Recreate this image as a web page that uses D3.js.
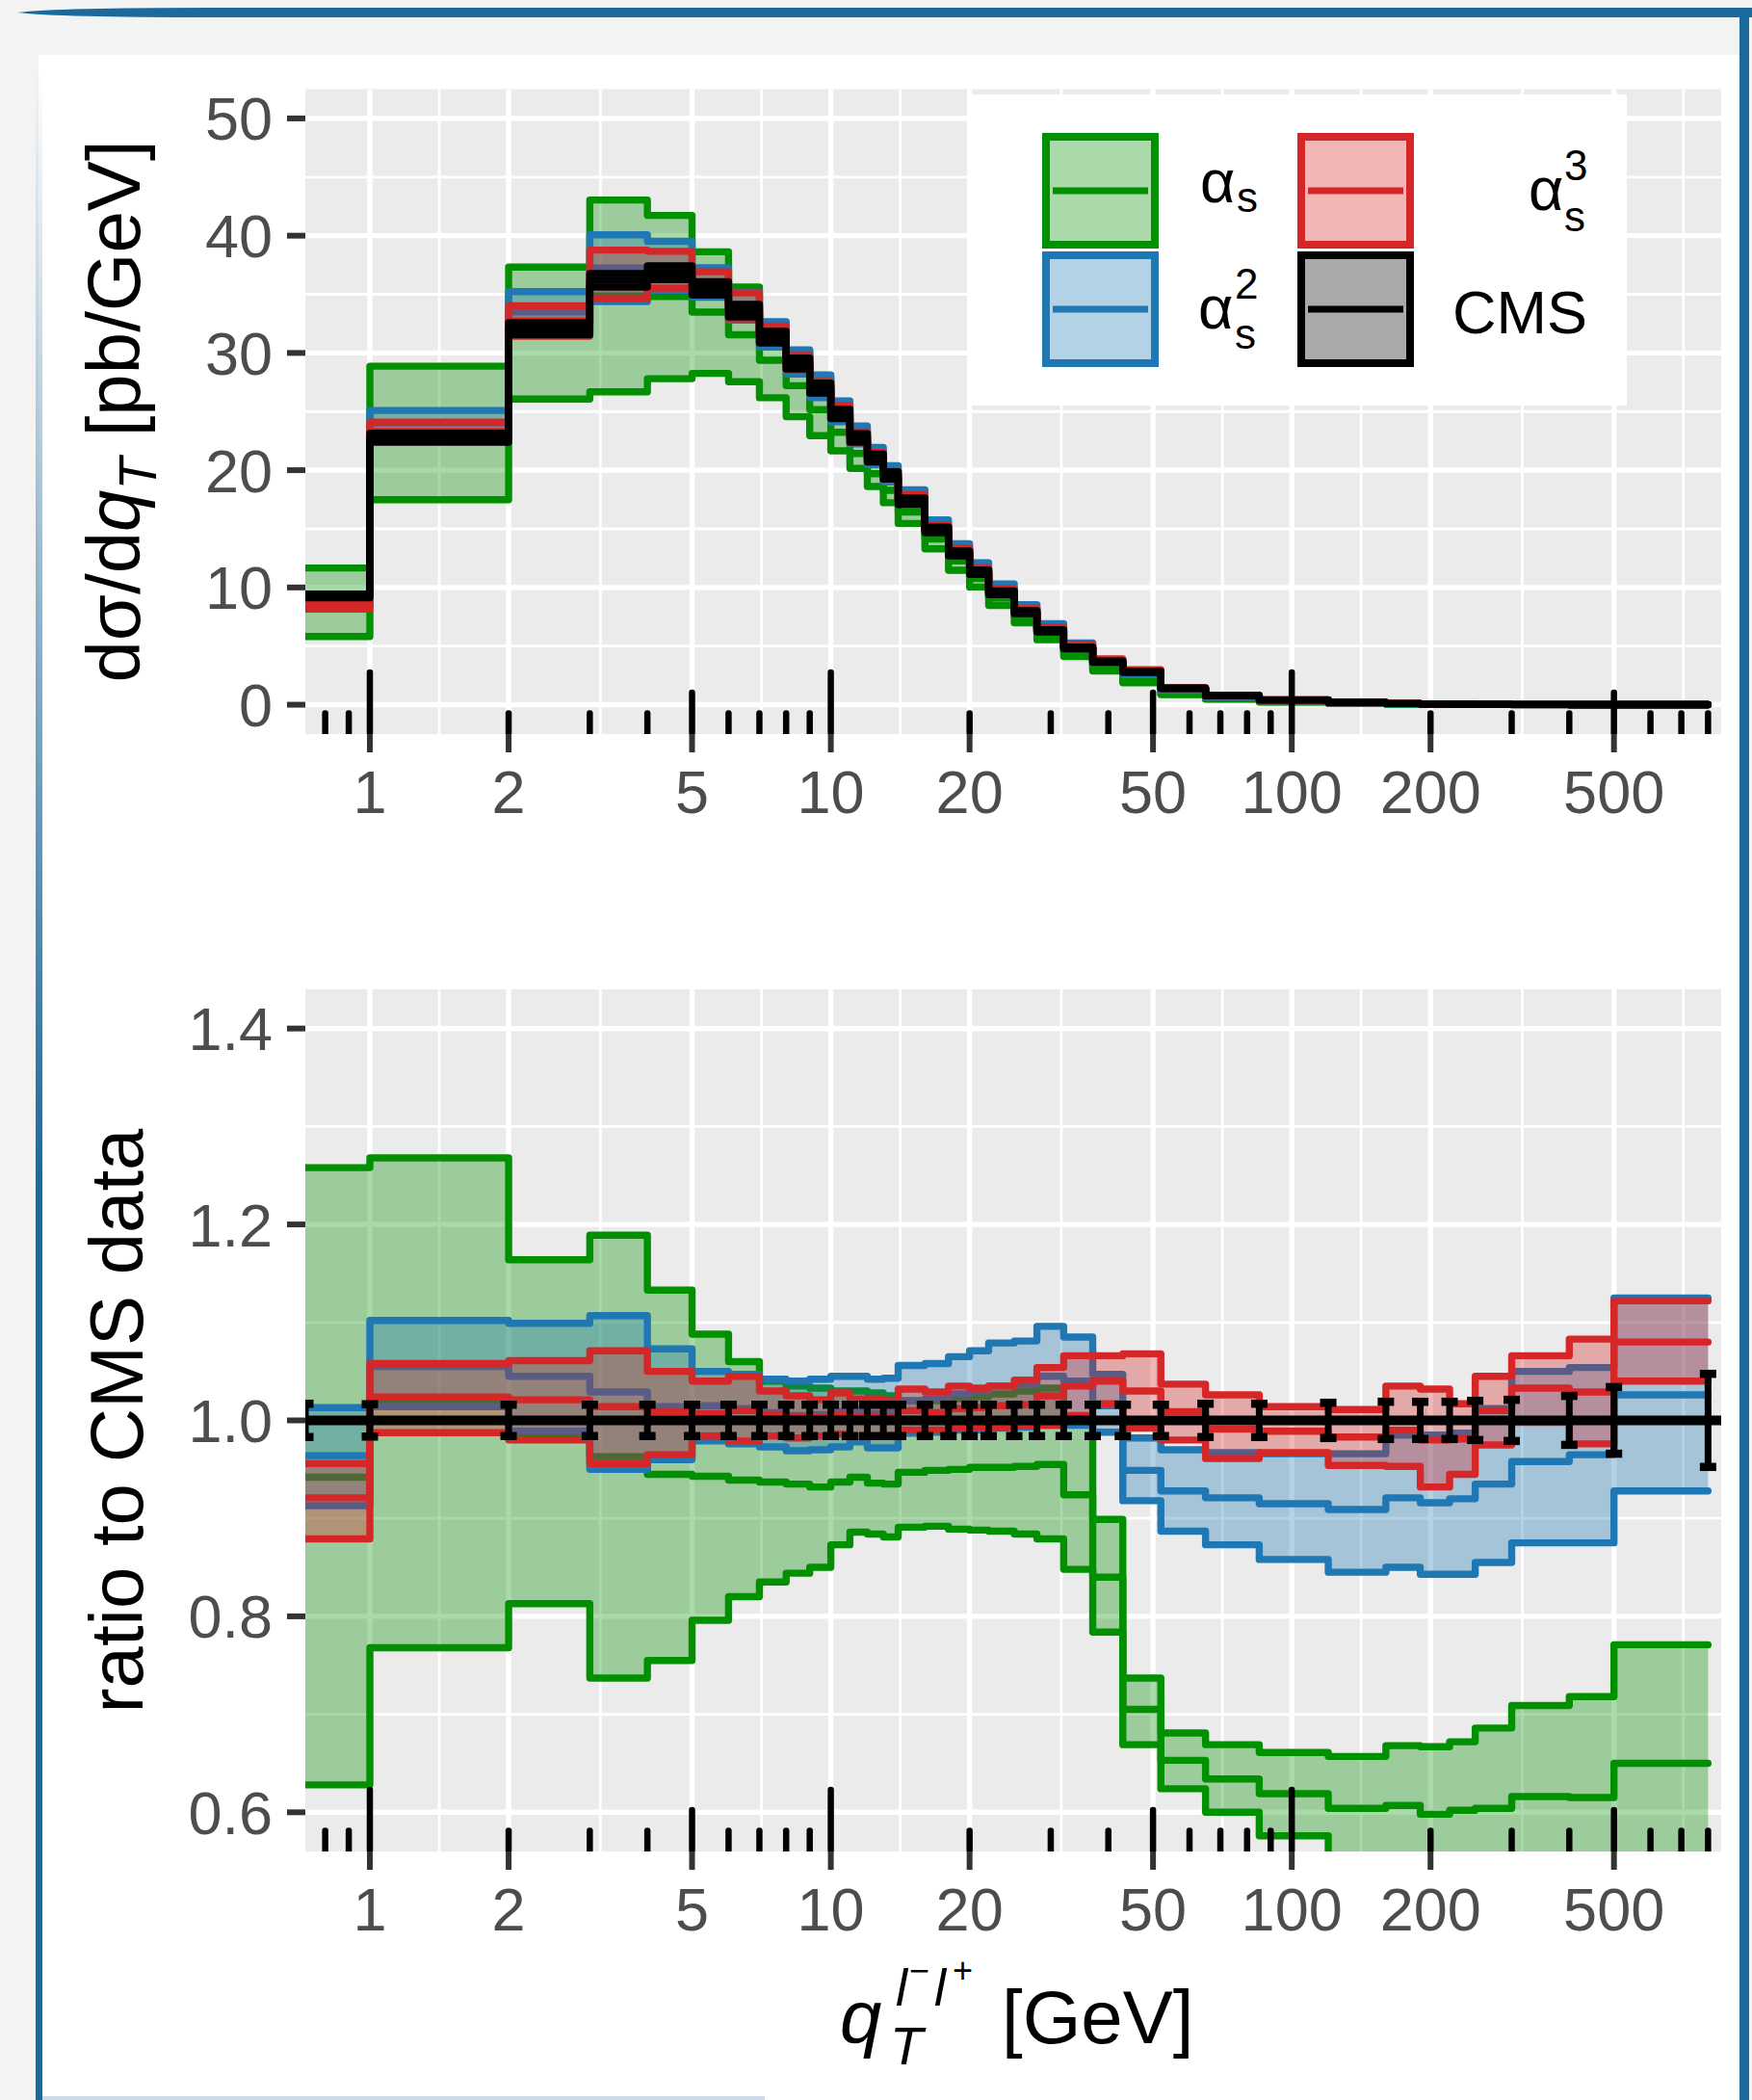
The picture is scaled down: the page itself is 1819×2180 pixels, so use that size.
<!DOCTYPE html>
<html>
<head>
<meta charset="utf-8">
<script src="https://cdn.jsdelivr.net/npm/d3@7"></script>
<style>
html, body { margin: 0; padding: 0; background: #f3f3f3; }
svg { display: block; }
text { font-family: "Liberation Sans", Arial, Helvetica, sans-serif; }
</style>
</head>
<body>
<svg id="chart" width="1819" height="2180"></svg>
<script>
// bin lower edges in GeV (first bin starts at 0, last point closes the 500-800 bin)
const edges = [0,1,2,3,4,5,6,7,8,9,10,11,12,13,14,16,18,20,22,25,28,32,37,43,52,65,85,120,160,190,220,250,300,400,500,800];

// CMS measurement, dsigma/dqT [pb/GeV] per bin, and relative uncertainty per point
const cmsXsec = [9.27,22.77,32.06,36.2,36.83,35.5,33.6,31.35,29.1,27.0,24.8,22.75,21.05,19.55,17.35,14.9,12.9,11.3,9.55,7.9,6.3,4.85,3.67,2.8,1.4,0.78,0.41,0.2,0.1,0.07,0.045,0.03,0.015,0.007,0.003];
const cmsErr = [0.017,0.0165,0.016,0.016,0.016,0.016,0.016,0.016,0.016,0.016,0.016,0.016,0.016,0.016,0.016,0.016,0.016,0.016,0.016,0.016,0.016,0.016,0.016,0.016,0.016,0.017,0.017,0.018,0.019,0.019,0.019,0.02,0.021,0.025,0.034,0.0475];

// ratio to CMS data: upper edge, central, lower edge of each prediction
const as1Hi  = [1.258,1.268,1.164,1.189,1.133,1.088,1.060,1.040,1.035,1.033,1.030,1.030,1.028,1.025,1.020,1.020,1.022,1.024,1.027,1.030,1.033,0.998,0.899,0.737,0.681,0.669,0.661,0.657,0.668,0.667,0.672,0.686,0.709,0.718,0.771];
const as1Mid = [0.942,1.019,0.985,0.963,0.945,0.943,0.939,0.937,0.935,0.932,0.937,0.942,0.936,0.935,0.947,0.949,0.950,0.952,0.952,0.953,0.955,0.924,0.840,0.705,0.653,0.634,0.619,0.604,0.607,0.598,0.602,0.604,0.616,0.615,0.650];
const as1Lo  = [0.628,0.768,0.813,0.737,0.755,0.796,0.820,0.835,0.844,0.850,0.873,0.886,0.884,0.881,0.891,0.892,0.889,0.888,0.887,0.884,0.879,0.848,0.784,0.669,0.624,0.600,0.576,0.540,0.540,0.535,0.535,0.540,0.545,0.545,0.550];

const as2Hi  = [1.013,1.102,1.099,1.107,1.073,1.050,1.047,1.042,1.040,1.042,1.045,1.045,1.042,1.043,1.056,1.058,1.065,1.071,1.079,1.081,1.096,1.085,1.047,0.982,0.970,0.967,0.966,0.966,0.985,0.985,0.987,1.012,1.050,1.054,1.125];
const as2Mid = [0.964,1.055,1.045,1.029,1.014,1.015,1.012,1.008,1.005,1.006,1.009,1.011,1.007,1.008,1.020,1.022,1.027,1.030,1.035,1.037,1.045,1.040,1.015,0.949,0.928,0.921,0.915,0.909,0.921,0.916,0.920,0.935,0.958,0.965,1.026];
const as2Lo  = [0.913,1.014,0.989,0.950,0.960,0.979,0.976,0.973,0.969,0.970,0.973,0.978,0.972,0.972,0.987,0.988,0.990,0.990,0.992,0.993,0.995,0.995,0.988,0.918,0.887,0.873,0.858,0.845,0.850,0.843,0.843,0.855,0.875,0.875,0.928];

const as3Hi  = [0.956,1.058,1.061,1.071,1.050,1.040,1.045,1.030,1.025,1.021,1.028,1.022,1.022,1.020,1.032,1.029,1.035,1.033,1.035,1.041,1.054,1.066,1.066,1.068,1.037,1.026,1.014,1.011,1.035,1.032,1.017,1.045,1.066,1.083,1.122];
const as3Mid = [0.921,1.024,1.021,1.014,1.009,1.007,1.010,1.006,1.004,1.003,1.006,1.004,1.004,1.003,1.010,1.008,1.012,1.013,1.015,1.016,1.025,1.035,1.040,1.030,1.009,0.991,0.989,0.983,0.990,0.980,0.981,1.010,1.033,1.029,1.080];
const as3Lo  = [0.879,0.9875,0.980,0.956,0.965,0.984,0.979,0.984,0.982,0.984,0.986,0.984,0.984,0.984,0.990,0.990,0.992,0.993,0.993,0.995,0.995,1.005,1.017,0.992,0.980,0.961,0.967,0.954,0.953,0.932,0.945,0.975,0.998,0.976,1.040];

const xTicks = [1,2,5,10,20,50,100,200,500];
const yTopTicks = [0,10,20,30,40,50];
const yTopMinor = [5,15,25,35,45];
const yBotTicks = [0.6,0.8,1.0,1.2,1.4];
const yBotMinor = [0.7,0.9,1.1,1.3];

const series = [
  { key: "as1", color: "#009000", hi: as1Hi, mid: as1Mid, lo: as1Lo },
  { key: "as2", color: "#1f77b4", hi: as2Hi, mid: as2Mid, lo: as2Lo },
  { key: "as3", color: "#d62728", hi: as3Hi, mid: as3Mid, lo: as3Lo }
];

const W = 1819, H = 2180;
const PL = 317, PR = 1787;
const TOP = { t: 92.5, b: 762 }, BOT = { t: 1027, b: 1922 };
const LW = 7.4; // band edge line width

const svg = d3.select("#chart");

// page frame
svg.append("rect").attr("width", W).attr("height", H).attr("fill", "#f3f3f3");
svg.append("rect").attr("x", 40).attr("y", 57).attr("width", 1766).attr("height", 2123).attr("fill", "#ffffff");
const defs = svg.append("defs");
const lg = defs.append("linearGradient").attr("id", "leftfade").attr("x1", 0).attr("y1", 0).attr("x2", 0).attr("y2", 1);
lg.append("stop").attr("offset", "0").attr("stop-color", "#1a6a9e").attr("stop-opacity", 0);
lg.append("stop").attr("offset", "0.3").attr("stop-color", "#1a6a9e").attr("stop-opacity", 0.55);
lg.append("stop").attr("offset", "0.55").attr("stop-color", "#1a6a9e").attr("stop-opacity", 1);
lg.append("stop").attr("offset", "1").attr("stop-color", "#1a6a9e").attr("stop-opacity", 1);
svg.append("path").attr("d", "M18,13 Q60,8 220,8 L1819,8 L1819,18 L220,18 Q60,18 18,13 Z").attr("fill", "#1a6a9e");
svg.append("rect").attr("x", 1806).attr("y", 14).attr("width", 10).attr("height", H - 14).attr("fill", "#1a6a9e");
svg.append("rect").attr("x", 37).attr("y", 70).attr("width", 7).attr("height", H - 70).attr("fill", "url(#leftfade)");
svg.append("rect").attr("x", 44).attr("y", 2176).attr("width", 750).attr("height", 4).attr("fill", "#cddbe8");

const x = d3.scaleLog().domain([0.7244, 854.2]).range([PL, PR]);
const yTop = d3.scaleLinear().domain([-2.5, 52.5]).range([TOP.b, TOP.t]);
const yBot = d3.scaleLinear().domain([0.56, 1.44]).range([BOT.b, BOT.t]);

const xMinor = [];
for (let i = 0; i < xTicks.length - 1; i++) xMinor.push(Math.sqrt(xTicks[i] * xTicks[i + 1]));
xMinor.push(Math.sqrt(500 * 1000));

const logTicks = [];
[0.1, 1, 10, 100].forEach(dec => {
  for (let k = 1; k <= 9; k++) {
    const v = k * dec;
    if (v >= x.domain()[0] && v <= x.domain()[1]) logTicks.push({ v, len: k === 1 ? 64 : (k === 5 ? 43 : 21.5) });
  }
});

const xs = e => (e <= 0 ? PL - 40 : x(e));
const pick = (arr, i) => arr[Math.min(i, arr.length - 1)];

function panelBase(P, y, majors, minors, id) {
  const g = svg.append("g");
  g.append("rect").attr("x", PL).attr("y", P.t).attr("width", PR - PL).attr("height", P.b - P.t).attr("fill", "#ebebeb");
  defs.append("clipPath").attr("id", id).append("rect")
    .attr("x", PL).attr("y", P.t).attr("width", PR - PL).attr("height", P.b - P.t);
  // minor grid
  g.selectAll(null).data(minors).join("line")
    .attr("x1", PL).attr("x2", PR).attr("y1", d => y(d)).attr("y2", d => y(d))
    .attr("stroke", "#fff").attr("stroke-width", 2.8);
  g.selectAll(null).data(xMinor).join("line")
    .attr("x1", d => x(d)).attr("x2", d => x(d)).attr("y1", P.t).attr("y2", P.b)
    .attr("stroke", "#fff").attr("stroke-width", 2.8);
  // major grid
  g.selectAll(null).data(majors).join("line")
    .attr("x1", PL).attr("x2", PR).attr("y1", d => y(d)).attr("y2", d => y(d))
    .attr("stroke", "#fff").attr("stroke-width", 5.4);
  g.selectAll(null).data(xTicks).join("line")
    .attr("x1", d => x(d)).attr("x2", d => x(d)).attr("y1", P.t).attr("y2", P.b)
    .attr("stroke", "#fff").attr("stroke-width", 5.4);
  // axis ticks and labels
  g.selectAll(null).data(majors).join("line")
    .attr("x1", PL - 19).attr("x2", PL).attr("y1", d => y(d)).attr("y2", d => y(d))
    .attr("stroke", "#333").attr("stroke-width", 6);
  g.selectAll(null).data(majors).join("text")
    .attr("x", PL - 34).attr("y", d => y(d) + 22.5)
    .attr("text-anchor", "end").attr("font-size", 63).attr("fill", "#4d4d4d")
    .text(d => (y === yBot ? d3.format(".1f")(d) : d));
  g.selectAll(null).data(xTicks).join("line")
    .attr("x1", d => x(d)).attr("x2", d => x(d)).attr("y1", P.b).attr("y2", P.b + 19)
    .attr("stroke", "#333").attr("stroke-width", 6);
  g.selectAll(null).data(xTicks).join("text")
    .attr("x", d => x(d)).attr("y", P.b + 82)
    .attr("text-anchor", "middle").attr("font-size", 63).attr("fill", "#4d4d4d")
    .text(d => d);
  return svg.append("g").attr("clip-path", `url(#${id})`);
}

function logTickLayer(P, id) {
  svg.append("g").attr("clip-path", `url(#${id})`)
    .selectAll(null).data(logTicks).join("line")
    .attr("x1", d => x(d.v)).attr("x2", d => x(d.v))
    .attr("y1", P.b).attr("y2", d => P.b - d.len)
    .attr("stroke", "#000").attr("stroke-width", 6.5).attr("stroke-linecap", "round");
}

function drawBand(g, y, hi, mid, lo, color) {
  const pts = edges.map((e, i) => ({ e, hi: pick(hi, i), mid: pick(mid, i), lo: pick(lo, i) }));
  const area = d3.area().curve(d3.curveStepAfter).x(d => xs(d.e)).y0(d => y(d.lo)).y1(d => y(d.hi));
  g.append("path").datum(pts).attr("d", area).attr("fill", color).attr("fill-opacity", 1 / 3);
  ["mid", "lo", "hi"].forEach(k => {
    const line = d3.line().curve(d3.curveStepAfter).x(d => xs(d.e)).y(d => y(d[k]));
    g.append("path").datum(pts).attr("d", line).attr("fill", "none")
      .attr("stroke", color).attr("stroke-width", LW)
      .attr("stroke-linejoin", "round").attr("stroke-linecap", "round");
  });
}

// ---------- top panel: cross section ----------
const gTop = panelBase(TOP, yTop, yTopTicks, yTopMinor, "clipTop");
series.forEach(s => {
  const mul = arr => arr.map((r, i) => r * cmsXsec[i]);
  drawBand(gTop, yTop, mul(s.hi), mul(s.mid), mul(s.lo), s.color);
});
drawBand(gTop, yTop,
  cmsXsec.map((v, i) => v * (1 + cmsErr[i])), cmsXsec,
  cmsXsec.map((v, i) => v * (1 - cmsErr[i])), "#000");
logTickLayer(TOP, "clipTop");

// ---------- bottom panel: ratio ----------
const gBot = panelBase(BOT, yBot, yBotTicks, yBotMinor, "clipBot");
series.forEach(s => drawBand(gBot, yBot, s.hi, s.mid, s.lo, s.color));
gBot.append("line").attr("x1", PL).attr("x2", PR).attr("y1", yBot(1)).attr("y2", yBot(1))
  .attr("stroke", "#000").attr("stroke-width", 10);
const ebx = e => (e <= 0 ? PL : x(e));
const eb = gBot.selectAll(null).data(edges.map((e, i) => ({ e, err: cmsErr[i] }))).join("g");
eb.append("line").attr("x1", d => ebx(d.e)).attr("x2", d => ebx(d.e))
  .attr("y1", d => yBot(1 + d.err)).attr("y2", d => yBot(1 - d.err))
  .attr("stroke", "#000").attr("stroke-width", 7);
[1, -1].forEach(sg => {
  eb.append("line").attr("x1", d => ebx(d.e) - 8.5).attr("x2", d => ebx(d.e) + 8.5)
    .attr("y1", d => yBot(1 + sg * d.err)).attr("y2", d => yBot(1 + sg * d.err))
    .attr("stroke", "#000").attr("stroke-width", 8.5);
});
logTickLayer(BOT, "clipBot");

// ---------- axis titles ----------
const t1 = svg.append("text").attr("transform", "translate(145,427) rotate(-90)")
  .attr("text-anchor", "middle").attr("font-size", 78).attr("fill", "#000");
t1.append("tspan").text("d\u03C3/d");
t1.append("tspan").attr("font-style", "italic").text("q");
t1.append("tspan").attr("font-style", "italic").attr("font-size", 55).attr("dy", 17).text("T");
t1.append("tspan").attr("dy", -17).text(" [pb/GeV]");

svg.append("text").attr("transform", "translate(148,1475) rotate(-90)")
  .attr("text-anchor", "middle").attr("font-size", 78).attr("fill", "#000")
  .text("ratio to CMS data");

const xt = svg.append("g").attr("fill", "#000");
xt.append("text").attr("x", 872).attr("y", 2121).attr("font-size", 78).attr("font-style", "italic").text("q");
xt.append("text").attr("x", 924).attr("y", 2143).attr("font-size", 56).attr("font-style", "italic").text("T");
xt.append("text").attr("x", 930).attr("y", 2082).attr("font-size", 54).attr("font-style", "italic").text("l");
xt.append("text").attr("x", 944).attr("y", 2058).attr("font-size", 36).text("\u2212");
xt.append("text").attr("x", 970).attr("y", 2082).attr("font-size", 54).attr("font-style", "italic").text("l");
xt.append("text").attr("x", 989).attr("y", 2058).attr("font-size", 36).text("+");
xt.append("text").attr("x", 1040).attr("y", 2121).attr("font-size", 78).text("[GeV]");

// ---------- legend ----------
const leg = svg.append("g");
leg.append("rect").attr("x", 1004).attr("y", 98).attr("width", 685).attr("height", 323).attr("fill", "#fff");
const keys = [
  { color: "#009000", x: 1082, y: 138 },
  { color: "#1f77b4", x: 1082, y: 261 },
  { color: "#d62728", x: 1347, y: 138 },
  { color: "#000000", x: 1347, y: 261 }
];
keys.forEach(k => {
  leg.append("rect").attr("x", k.x + 4).attr("y", k.y + 4).attr("width", 121 - 8).attr("height", 120 - 8)
    .attr("fill", k.color).attr("fill-opacity", 1 / 3).attr("stroke", k.color).attr("stroke-width", 8);
  leg.append("line").attr("x1", k.x + 11).attr("x2", k.x + 110).attr("y1", k.y + 60).attr("y2", k.y + 60)
    .attr("stroke", k.color).attr("stroke-width", 7);
});
const lt = (xp, yp, size, str, anchor) => leg.append("text").attr("x", xp).attr("y", yp)
  .attr("font-size", size).attr("text-anchor", anchor || "start").attr("fill", "#000").text(str);
lt(1246, 209.5, 63, "\u03B1"); lt(1284, 220, 44, "s");
lt(1244, 341, 63, "\u03B1"); lt(1282, 362, 44, "s"); lt(1282, 310, 44, "2");
lt(1587, 218, 63, "\u03B1"); lt(1624, 240, 44, "s"); lt(1624, 187, 44, "3");
lt(1648, 345.5, 63, "CMS", "end");
</script>
</body>
</html>
